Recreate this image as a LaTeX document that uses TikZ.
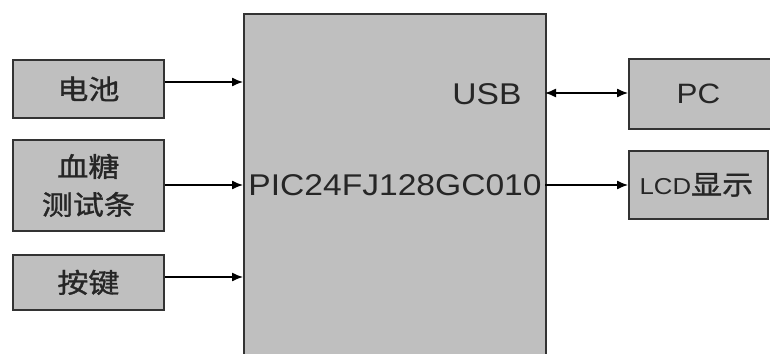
\documentclass[tikz,border=0pt]{standalone}
\usepackage{fontspec}
\setmainfont[FakeStretch=1.12]{Liberation Sans}
\newfontfamily\cjk[FakeStretch=1.15,FakeBold=1.2]{Noto Sans CJK SC}
\usetikzlibrary{arrows.meta}
\tikzset{
  blk/.style={draw=black!80, line width=1.8pt, fill=black!25, inner sep=0pt, anchor=north west},
  conn/.style={line width=1.3pt, -{Latex[length=11pt,width=9pt]}},
  biconn/.style={line width=1.3pt, {Latex[length=11pt,width=9pt]}-{Latex[length=11pt,width=9pt]}},
  cn/.style={font=\cjk\fontsize{27}{38}\selectfont, align=center, text=black!85},
  en/.style={font=\fontsize{30}{36}\selectfont, text=black!85, inner sep=0pt},
}
\begin{document}
\begin{tikzpicture}[x=1pt,y=-1pt]
\clip (0,0) rectangle (770,353);
\fill[white] (0,0) rectangle (770,353);
% main block
\node[blk, minimum width=302pt, minimum height=360pt] (mcu) at (243,13) {};
\node[en] (usb) at (487,94) {USB};
\node[en] (pic) at (395,185) {PIC24FJ128GC010};
% left blocks
\node[blk, minimum width=151pt, minimum height=58pt] (bat) at (12,59) {};
\node[cn] at (bat.center) {电池};
\node[blk, minimum width=151pt, minimum height=91pt] (glu) at (12,139) {};
\node[cn] at (glu.center) {血糖\\测试条};
\node[blk, minimum width=151pt, minimum height=55pt] (key) at (12,254) {};
\node[cn] at (key.center) {按键};
% right blocks
\node[blk, minimum width=145pt, minimum height=70pt] (pc) at (628,58) {};
\node[en, font=\fontsize{28}{34}\selectfont] at ([xshift=-3pt]pc.center) {PC};
\node[blk, minimum width=139pt, minimum height=68pt] (lcd) at (628,150) {};
\node[text=black!85, inner sep=0pt] at ([xshift=-2pt]lcd.center) {{\fontsize{23}{30}\selectfont LCD}{\cjk\fontsize{27}{30}\selectfont 显示}};
% connectors
\coordinate (m1) at (243,82);
\coordinate (m2) at (243,185);
\coordinate (m3) at (243,277);
\coordinate (m4) at (545,93);
\coordinate (m5) at (545,185);
\draw[conn] (bat.east |- m1) -- (m1);
\draw[conn] (glu.east |- m2) -- (m2);
\draw[conn] (key.east |- m3) -- (m3);
\draw[biconn] (m4) -- (pc.west |- m4);
\draw[conn] (m5) -- (lcd.west |- m5);
\end{tikzpicture}
\end{document}
